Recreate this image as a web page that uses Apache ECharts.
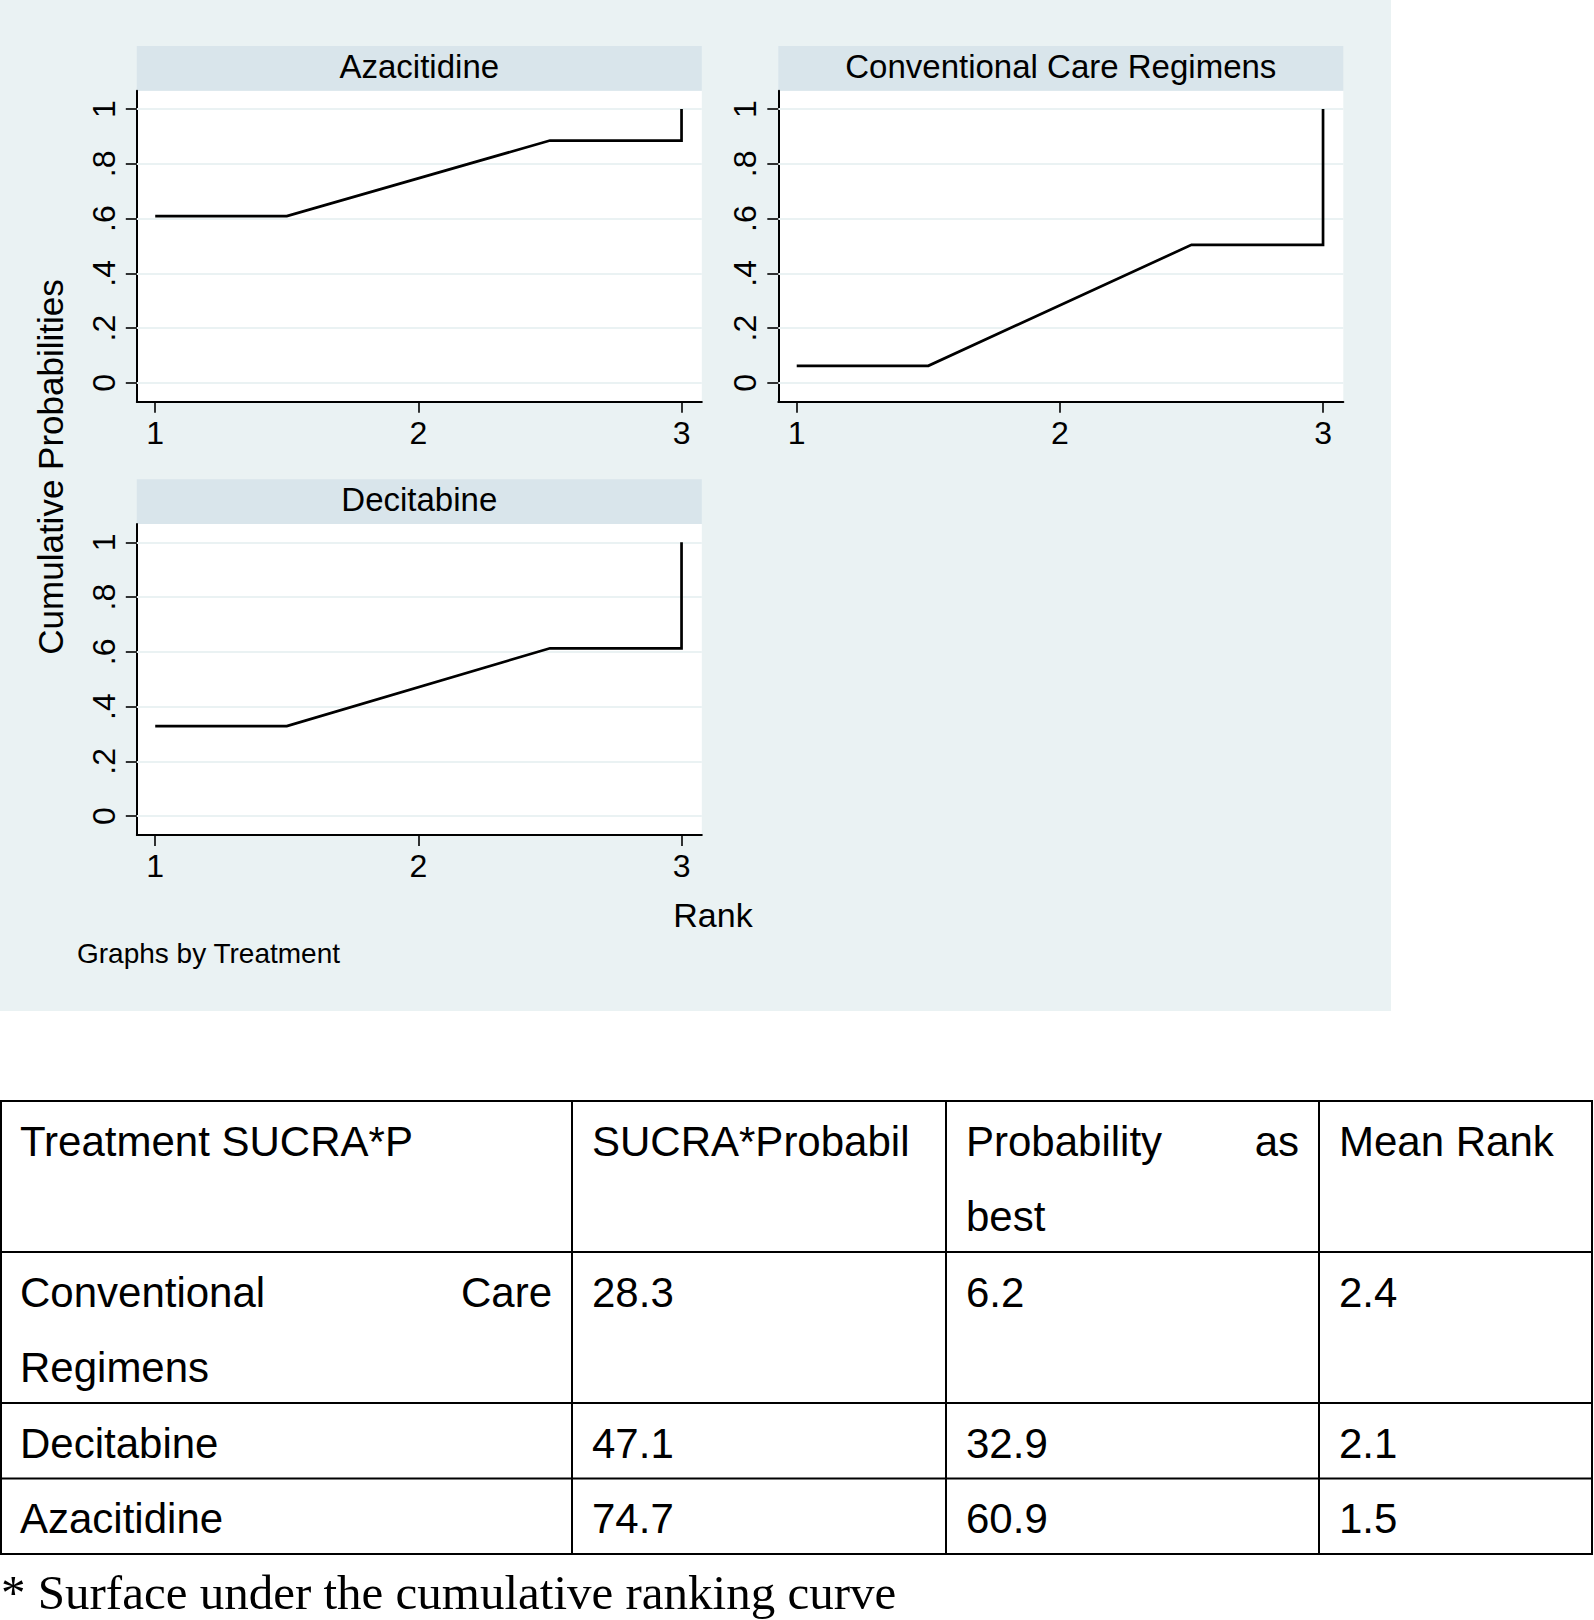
<!DOCTYPE html>
<html>
<head>
<meta charset="utf-8">
<script src="https://cdn.jsdelivr.net/npm/echarts@6/dist/echarts.min.js"></script>
<style>
html,body{margin:0;padding:0;background:#fff;}
#chart{width:1594px;height:1620px;}
</style>
</head>
<body>
<div id="chart"></div>
<script>
// ---- data ----
const treatments = ['Azacitidine', 'Conventional Care Regimens', 'Decitabine'];
const rankPts = [1, 1.5, 2.5, 3, 3];
const azacitidineCum = [0.609, 0.609, 0.885, 0.885, 1];
const conventionalCum = [0.062, 0.062, 0.504, 0.504, 1];
const decitabineCum = [0.329, 0.329, 0.613, 0.613, 1];
const yTicks = [0, 0.2, 0.4, 0.6, 0.8, 1];
const yTickLabels = ['0', '.2', '.4', '.6', '.8', '1'];
const xTicks = [1, 2, 3];
const xTickLabels = ['1', '2', '3'];
const yTitle = 'Cumulative Probabilities';
const xTitle = 'Rank';
const byNote = 'Graphs by Treatment';

const tableHeader = ['Treatment SUCRA*P', 'SUCRA*Probabil', 'Probability as best', 'Mean Rank'];
const tableTreatments = ['Conventional Care Regimens', 'Decitabine', 'Azacitidine'];
const sucraValues = ['28.3', '47.1', '74.7'];
const probBestValues = ['6.2', '32.9', '60.9'];
const meanRankValues = ['2.4', '2.1', '1.5'];
const footnote = '* Surface under the cumulative ranking curve';

// ---- layout ----
const panelSeries = [azacitidineCum, conventionalCum, decitabineCum];
const panelPos = [
  {left: 136.8, top: 90.7},
  {left: 778.3, top: 90.7},
  {left: 136.8, top: 524}
];
const PW = 565, PH = 311, HH = 44.7;
const BG = '#EAF2F3', STRIP = '#D9E5EB';
const SANS = '"Liberation Sans", Arial, Helvetica, sans-serif';
const SERIF = '"Liberation Serif", "Times New Roman", serif';

const grids = [], xAxes = [], yAxes = [], series = [], graphics = [];

graphics.push({type: 'rect', z: -10, shape: {x: 0, y: 0, width: 1391, height: 1011}, style: {fill: BG}, silent: true});

panelSeries.forEach((vals, i) => {
  const p = panelPos[i];
  grids.push({left: p.left, top: p.top, width: PW, height: PH, show: true, backgroundColor: '#fff', borderWidth: 0, containLabel: false});
  xAxes.push({
    type: 'value', gridIndex: i, min: 0.93, max: 3.077,
    axisLine: {show: true, onZero: false, lineStyle: {color: '#000', width: 2}},
    axisTick: {show: true, customValues: xTicks, length: 11, lineStyle: {color: '#000', width: 1.6}},
    axisLabel: {show: true, customValues: xTicks, margin: 15, color: '#000', fontSize: 32, fontFamily: SANS,
      formatter: v => xTickLabels[xTicks.findIndex(t => Math.abs(t - v) < 1e-9)]},
    splitLine: {show: false}
  });
  yAxes.push({
    type: 'value', gridIndex: i, min: -0.069, max: 1.067,
    axisLine: {show: true, onZero: false, lineStyle: {color: '#000', width: 2}},
    axisTick: {show: true, customValues: yTicks, length: 11, lineStyle: {color: '#000', width: 1.6}},
    axisLabel: {show: true, customValues: yTicks, rotate: 90, margin: 17, color: '#000', fontSize: 32, fontFamily: SANS,
      formatter: v => yTickLabels[yTicks.findIndex(t => Math.abs(t - v) < 1e-9)]},
    splitLine: {show: false}
  });
  // grid lines
  series.push({
    type: 'line', xAxisIndex: i, yAxisIndex: i, data: [], z: 1, silent: true,
    markLine: {silent: true, symbol: 'none', label: {show: false},
      lineStyle: {color: BG, width: 2, type: 'solid'},
      data: yTicks.map(v => ({yAxis: v}))}
  });
  series.push({
    type: 'line', name: treatments[i], xAxisIndex: i, yAxisIndex: i, z: 5,
    data: rankPts.map((r, k) => [r, vals[k]]),
    showSymbol: false, symbol: 'none', animation: false,
    lineStyle: {color: '#000', width: 2.7, join: 'miter', cap: 'butt'}
  });
  // strip header
  graphics.push({type: 'rect', z: 0, shape: {x: p.left, y: p.top - HH, width: PW, height: HH}, style: {fill: STRIP}, silent: true});
  graphics.push({type: 'text', z: 1, x: p.left + PW / 2, y: p.top - HH / 2 - 2,
    style: {text: treatments[i], fill: '#000', font: '33px ' + SANS, align: 'center', verticalAlign: 'middle'}});
});

// axis titles
graphics.push({type: 'text', x: 50, y: 467, rotation: Math.PI / 2,
  style: {text: yTitle, fill: '#000', font: '35px ' + SANS, align: 'center', verticalAlign: 'middle'}});
graphics.push({type: 'text', x: 713, y: 915,
  style: {text: xTitle, fill: '#000', font: '34px ' + SANS, align: 'center', verticalAlign: 'middle'}});
graphics.push({type: 'text', x: 77, y: 953,
  style: {text: byNote, fill: '#000', font: '28px ' + SANS, align: 'left', verticalAlign: 'middle'}});

// ---- table ----
const colX = [0, 572, 946, 1319, 1593];
const tableTop = 1101, LINE = 75.5, PAD = 20, FIRST = 40;
const headerLines = [[tableHeader[0]], [tableHeader[1]], ['Probability as', 'best'], [tableHeader[3]]];
const bodyRows = [
  [['Conventional Care', 'Regimens'], [sucraValues[0]], [probBestValues[0]], [meanRankValues[0]]],
  [[tableTreatments[1]], [sucraValues[1]], [probBestValues[1]], [meanRankValues[1]]],
  [[tableTreatments[2]], [sucraValues[2]], [probBestValues[2]], [meanRankValues[2]]]
];
const allRows = [headerLines].concat(bodyRows);
const TFONT = '42px ' + SANS;
let y = tableTop;
const rowLines = [y];
allRows.forEach(row => {
  const nLines = Math.max.apply(null, row.map(c => c.length));
  row.forEach((cell, c) => {
    const x0 = colX[c] + PAD, x1 = colX[c + 1] - PAD;
    cell.forEach((line, li) => {
      const ty = y + FIRST + li * LINE;
      const words = line.split(' ');
      const justify = li < cell.length - 1 && words.length === 2;
      if (justify) {
        graphics.push({type: 'text', x: x0, y: ty, style: {text: words[0], fill: '#000', font: TFONT, align: 'left', verticalAlign: 'middle'}});
        graphics.push({type: 'text', x: x1, y: ty, style: {text: words[1], fill: '#000', font: TFONT, align: 'right', verticalAlign: 'middle'}});
      } else {
        graphics.push({type: 'text', x: x0, y: ty, style: {text: line, fill: '#000', font: TFONT, align: 'left', verticalAlign: 'middle'}});
      }
    });
  });
  y += nLines * LINE;
  rowLines.push(y);
});
rowLines.forEach((ry, k) => {
  graphics.push({type: 'line', shape: {x1: 0, y1: ry, x2: 1593, y2: ry}, style: {stroke: '#000', lineWidth: 2}, silent: true});
});
colX.forEach(cx => {
  const xx = cx === 0 ? 1 : (cx === 1593 ? 1592 : cx);
  graphics.push({type: 'line', shape: {x1: xx, y1: tableTop, x2: xx, y2: rowLines[rowLines.length - 1]}, style: {stroke: '#000', lineWidth: 2}, silent: true});
});
graphics.push({type: 'text', x: 1, y: 1592, style: {text: footnote, fill: '#000', font: '49px ' + SERIF, align: 'left', verticalAlign: 'middle'}});

const chart = echarts.init(document.getElementById('chart'), null, {renderer: 'svg'});
chart.setOption({
  animation: false,
  backgroundColor: '#fff',
  grid: grids,
  xAxis: xAxes,
  yAxis: yAxes,
  series: series,
  graphic: {elements: graphics}
});
</script>
</body>
</html>
